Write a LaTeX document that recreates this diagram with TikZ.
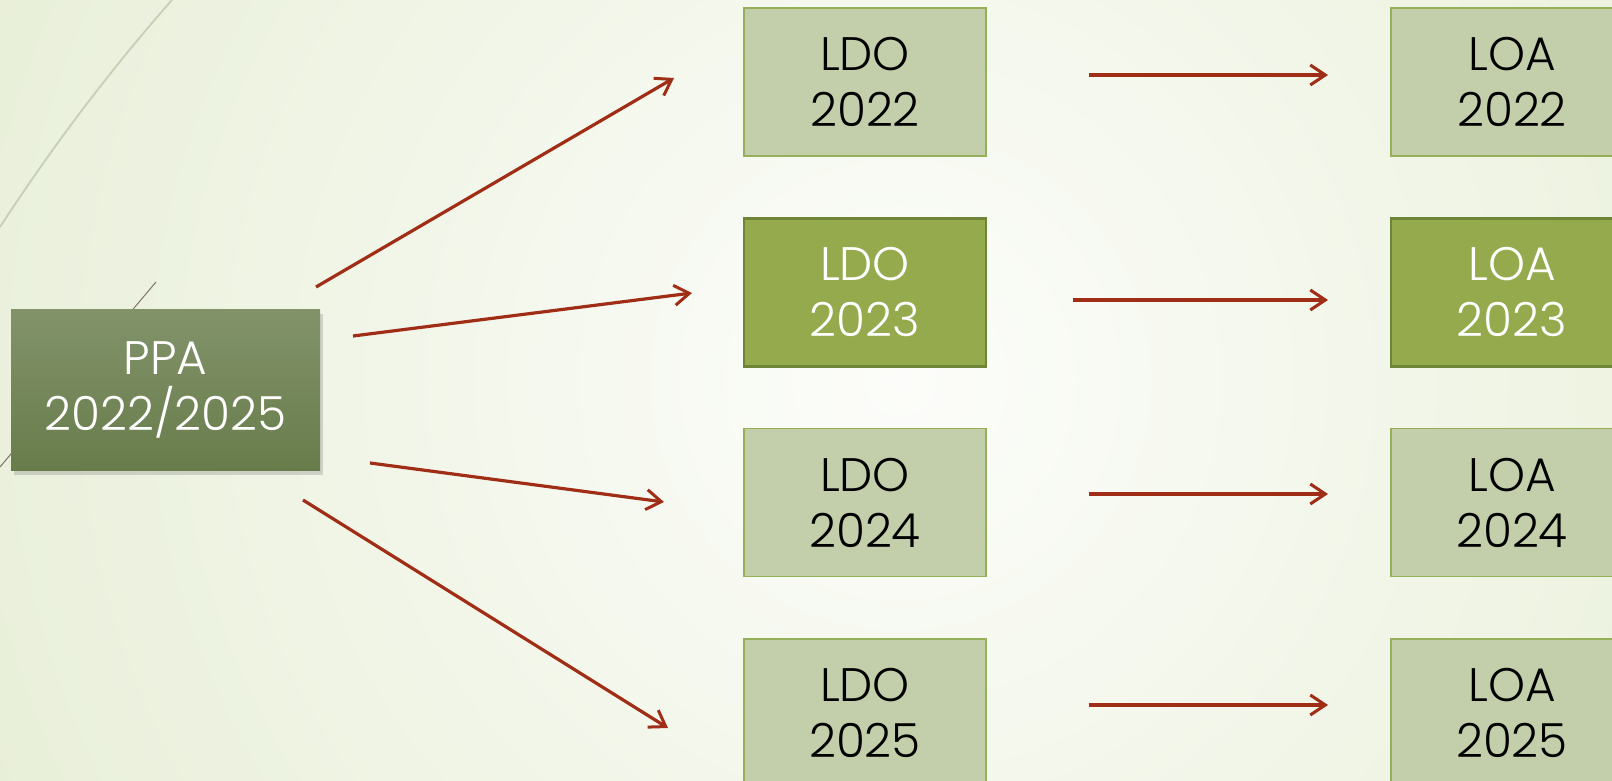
\documentclass[tikz,border=0pt]{standalone}
\usepackage{fontspec}
\setmainfont{Poppins Light}
\usepackage{tikz}
\usetikzlibrary{arrows.meta}
\usetikzlibrary{shadows}

\definecolor{bgout}{RGB}{232,239,216}
\definecolor{bgin}{RGB}{252,253,250}
\definecolor{lightfill}{RGB}{195,207,170}
\definecolor{lightline}{RGB}{150,176,90}
\definecolor{darkfill}{RGB}{148,170,76}
\definecolor{darkline}{RGB}{110,133,55}
\definecolor{ppatop}{RGB}{130,147,106}
\definecolor{ppabot}{RGB}{104,124,75}
\definecolor{arrowred}{RGB}{160,45,22}
\definecolor{wisp}{RGB}{200,206,180}
\definecolor{wispdark}{RGB}{125,117,99}

\begin{document}
\begin{tikzpicture}[x=1pt, y=-1pt,
        plan/.style={rectangle, minimum width=242pt, minimum height=148pt, inner sep=0pt,
            align=center, font=\fontsize{47}{56}\selectfont},
        planlight/.style={plan, fill=lightfill, draw=lightline, line width=1.5pt, text=black},
        plandark/.style={plan, fill=darkfill, draw=darkline, line width=2.5pt, text=white},
        flow/.style={draw=arrowred, line width=3.2pt, -{Straight Barb[length=15pt, width=20pt, line width=3pt]}}]
        \useasboundingbox (0,0) rectangle (1612,781);
        \clip (0,0) rectangle (1612,781);

        % background
        \fill[bgout] (0,0) rectangle (1612,781);
        \shade[inner color=bgin, outer color=bgout] (900,380) circle (1000);
        \draw[wisp, line width=1.8pt] (0,227) .. controls (50,150) and (110,70) .. (172,0);
        \draw[wispdark, line width=1pt] (0,467) -- (156,282);

        % boxes
        \node[rectangle, minimum width=309pt, minimum height=161pt, inner sep=0pt,
            top color=ppatop, bottom color=ppabot, text=white, align=center,
            font=\fontsize{47}{56}\selectfont,
            drop shadow={shadow xshift=3pt, shadow yshift=-5pt, opacity=.3}]
            (ppa) at (165.5,389.5) {PPA\\2022/2025};

        \node[planlight] (ldo22) at (865,82) {LDO\\2022};
        \node[plandark]  (ldo23) at (865,292.5) {LDO\\2023};
        \node[planlight] (ldo24) at (865,502.5) {LDO\\2024};
        \node[planlight] (ldo25) at (865,713) {LDO\\2025};

        \node[planlight] (loa22) at (1512,82) {LOA\\2022};
        \node[plandark]  (loa23) at (1512,292.5) {LOA\\2023};
        \node[planlight] (loa24) at (1512,502.5) {LOA\\2024};
        \node[planlight] (loa25) at (1512,713) {LOA\\2025};

        % arrow ends
        \coordinate (p1) at (316,287);  \coordinate (d1) at (674,78);
        \coordinate (p2) at (353,336);  \coordinate (d2) at (692,293);
        \coordinate (p3) at (370,463);  \coordinate (d3) at (664,502);
        \coordinate (p4) at (303,500);  \coordinate (d4) at (668,728);
        \coordinate (o1) at (1089,75);  \coordinate (a1) at (1328,75);
        \coordinate (o2) at (1073,300); \coordinate (a2) at (1328,300);
        \coordinate (o3) at (1089,494); \coordinate (a3) at (1328,494);
        \coordinate (o4) at (1089,705); \coordinate (a4) at (1328,705);

        \foreach \i in {1,...,4} { \draw[flow] (p\i) -- (d\i); }
        \foreach \i in {1,...,4} { \draw[flow] (o\i) -- (a\i); }
    \end{tikzpicture}
\end{document}
